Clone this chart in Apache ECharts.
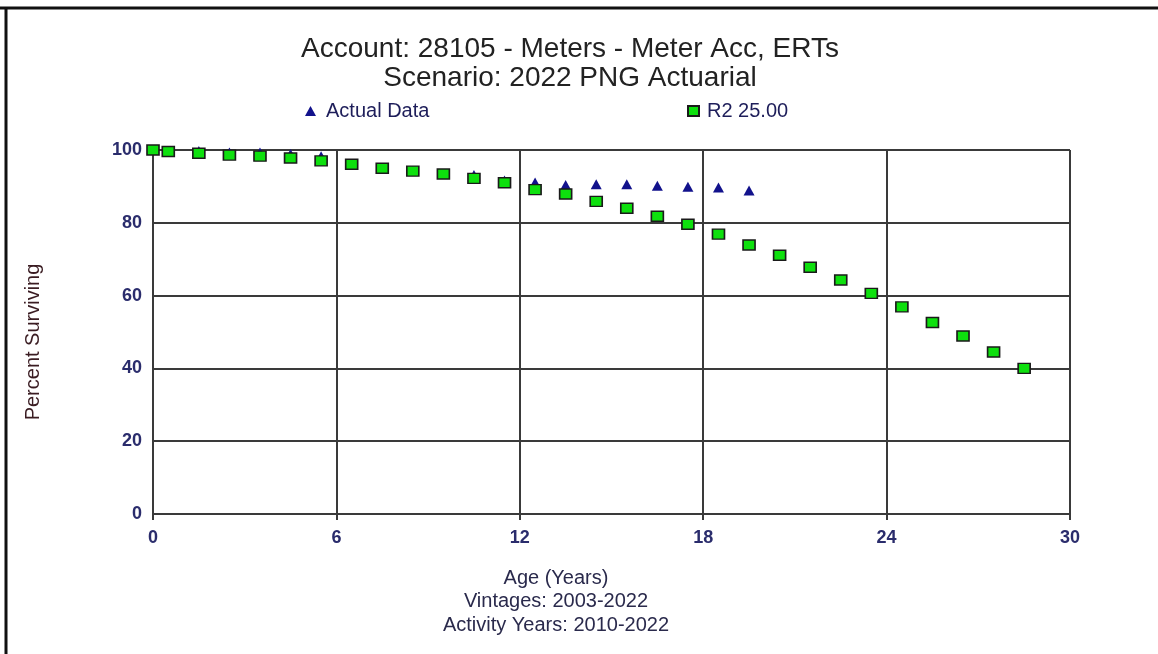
<!DOCTYPE html>
<html>
<head>
<meta charset="utf-8">
<script src="https://cdn.jsdelivr.net/npm/echarts@6/dist/echarts.min.js"></script>
<style>
html,body{margin:0;padding:0;background:#fff;}
#chart{width:1158px;height:654px;}
</style>
</head>
<body>
<div id="chart"></div>
<script>
// Data
var titleLines = ['Account: 28105 - Meters - Meter Acc, ERTs', 'Scenario: 2022 PNG Actuarial'];
var seriesNames = ['Actual Data', 'R2 25.00'];
var actualAges = [0, 0.5, 1.5, 2.5, 3.5, 4.5, 5.5, 6.5, 7.5, 8.5, 9.5, 10.5, 11.5, 12.5, 13.5, 14.5, 15.5, 16.5, 17.5, 18.5, 19.5];
var actualValues = [100, 99.6, 99.7, 99.3, 99.3, 98.9, 98.3, 96.1, 95.0, 94.2, 93.4, 93.1, 91.6, 91.1, 90.4, 90.6, 90.6, 90.2, 89.9, 89.7, 88.9];
var curveAges = [0, 0.5, 1.5, 2.5, 3.5, 4.5, 5.5, 6.5, 7.5, 8.5, 9.5, 10.5, 11.5, 12.5, 13.5, 14.5, 15.5, 16.5, 17.5, 18.5, 19.5, 20.5, 21.5, 22.5, 23.5, 24.5, 25.5, 26.5, 27.5, 28.5];
var curveValues = [100, 99.6, 99.1, 98.6, 98.3, 97.8, 97.0, 96.1, 95.0, 94.2, 93.4, 92.2, 91.0, 89.1, 87.9, 85.9, 84.0, 81.8, 79.6, 76.9, 73.9, 71.1, 67.8, 64.3, 60.6, 56.9, 52.6, 48.9, 44.5, 40.0];
var yAxisTitle = 'Percent Surviving';
var xAxisTitles = ['Age (Years)', 'Vintages: 2003-2022', 'Activity Years: 2010-2022'];

function pairs(xs, ys){ return xs.map(function(x,i){ return [x, ys[i]]; }); }

var FONT = '"Liberation Sans", Arial, sans-serif';
var gridLine = {color:'#3a3a3a', width:2};
var tickLabel = {color:'#2a2c6c', fontSize:18, fontWeight:'bold', fontFamily:FONT};

var chart = echarts.init(document.getElementById('chart'), null, {renderer:'canvas'});
chart.setOption({
  backgroundColor:'#fff',
  animation:false,
  title:[
    {text:titleLines[0], left:565, top:30, textAlign:'center',
     textStyle:{fontFamily:FONT, fontSize:28, fontWeight:'normal', color:'#222'}},
    {text:titleLines[1], left:565, top:59, textAlign:'center',
     textStyle:{fontFamily:FONT, fontSize:28, fontWeight:'normal', color:'#222'}}
  ],
  legend:[
    {data:[seriesNames[0]], left:300, top:96, itemWidth:11, itemHeight:10, itemGap:8,
     textStyle:{fontFamily:FONT, fontSize:20, color:'#1e1e5a', padding:[0,0,0,5]}},
    {data:[seriesNames[1]], left:682, top:96, itemWidth:11, itemHeight:10, itemGap:8,
     textStyle:{fontFamily:FONT, fontSize:20, color:'#1e1e5a', padding:[0,0,0,3]}}
  ],
  grid:{left:153, right:88, top:150, bottom:140, containLabel:false},
  xAxis:{
    type:'value', min:0, max:30, interval:6,
    axisLine:{show:true, lineStyle:gridLine},
    axisTick:{show:true, length:6, lineStyle:gridLine},
    axisLabel:Object.assign({margin:15}, tickLabel),
    splitLine:{show:true, lineStyle:gridLine}
  },
  yAxis:{
    type:'value', min:0, max:100, interval:20,
    axisLine:{show:true, lineStyle:gridLine},
    axisTick:{show:false},
    axisLabel:Object.assign({margin:11}, tickLabel),
    splitLine:{show:true, lineStyle:gridLine}
  },
  series:[
    {name:seriesNames[0], type:'scatter', symbol:'triangle', symbolSize:[11,10], z:2,
     itemStyle:{color:'#12128c', opacity:1}, data:pairs(actualAges, actualValues)},
    {name:seriesNames[1], type:'scatter', symbol:'rect', symbolSize:[12,10], z:3,
     itemStyle:{color:'#0ee00e', borderColor:'#1a1a1a', borderWidth:1.5, opacity:1}, data:pairs(curveAges, curveValues)}
  ],
  graphic:[
    {type:'line', shape:{x1:0, y1:8, x2:1158, y2:8}, style:{stroke:'#111', lineWidth:3}},
    {type:'line', shape:{x1:6, y1:7, x2:6, y2:654}, style:{stroke:'#111', lineWidth:3}},
    {type:'text', x:33, y:342, rotation:Math.PI/2,
     style:{text:yAxisTitle, textAlign:'center', textVerticalAlign:'middle', font:'20px "Liberation Sans", Arial, sans-serif', fill:'#3a1c22'}},
    {type:'text', x:556, y:578,
     style:{text:xAxisTitles[0], textAlign:'center', textVerticalAlign:'middle', font:'20px "Liberation Sans", Arial, sans-serif', fill:'#2a2a4c'}},
    {type:'text', x:556, y:601,
     style:{text:xAxisTitles[1], textAlign:'center', textVerticalAlign:'middle', font:'20px "Liberation Sans", Arial, sans-serif', fill:'#2a2a4c'}},
    {type:'text', x:556, y:625,
     style:{text:xAxisTitles[2], textAlign:'center', textVerticalAlign:'middle', font:'20px "Liberation Sans", Arial, sans-serif', fill:'#2a2a4c'}}
  ]
});
</script>
</body>
</html>
